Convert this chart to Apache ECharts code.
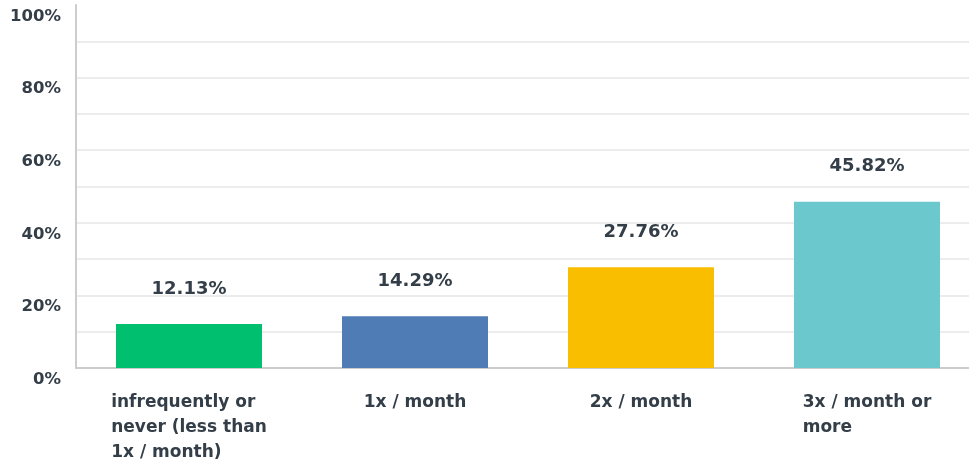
<!DOCTYPE html>
<html>
<head>
<meta charset="utf-8">
<script src="https://cdn.jsdelivr.net/npm/echarts@6/dist/echarts.min.js"></script>
<style>
    html, body { margin: 0; padding: 0; background: #fff; }
    #chart { width: 969px; height: 466px; }
</style>
</head>
<body>
<div id="chart"></div>
<script>
const categories = [
    'infrequently or\nnever (less than\n1x / month)',
    '1x / month',
    '2x / month',
    '3x / month or\nmore'
];
const values = [12.13, 14.29, 27.76, 45.82];
const barColors = ['#00bf6f', '#507cb6', '#f9be00', '#6bc8cd'];
const yTickLabels = ['0%', '20%', '40%', '60%', '80%', '100%'];

const textColor = '#333e48';
const font = 'DejaVu Sans';

const chart = echarts.init(document.getElementById('chart'), null, { renderer: 'canvas' });

const option = {
    animation: false,
    grid: {
        left: 76,
        right: -11,
        top: 5,
        bottom: 98,
        containLabel: false,
        outerBoundsMode: 'none'
    },
    xAxis: {
        type: 'category',
        data: categories,
        axisLine: { show: true, lineStyle: { color: '#cccccc', width: 2 } },
        axisTick: { show: false },
        axisLabel: {
            interval: 0,
            margin: 22,
            align: 'center',
            hideOverlap: false,
            // left-aligned lines inside a centred block
            formatter: function (value) {
                return value.split('\n').map((l) => '{a|' + l + '}').join('\n');
            },
            rich: {
                a: {
                    align: 'left',
                    color: textColor,
                    fontFamily: font,
                    fontWeight: 'bold',
                    fontSize: 17,
                    lineHeight: 25
                }
            }
        }
    },
    yAxis: {
        type: 'value',
        min: 0,
        max: 100,
        interval: 10,
        axisLine: { show: true, lineStyle: { color: '#cccccc', width: 2 } },
        axisTick: { show: false },
        splitLine: {
            show: true,
            showMinLine: false,
            showMaxLine: false,
            lineStyle: { color: '#ececec', width: 2 }
        },
        axisLabel: {
            margin: 15,
            verticalAlign: 'top',
            padding: [3, 0, 0, 0],
            color: textColor,
            fontFamily: font,
            fontWeight: 'bold',
            fontSize: 16.5,
            formatter: function (v) {
                return v % 20 === 0 ? yTickLabels[v / 20] : '';
            }
        }
    },
    series: [
        {
            type: 'bar',
            barWidth: 146,
            data: values.map((v, i) => ({ value: v, itemStyle: { color: barColors[i] } })),
            label: {
                show: true,
                position: 'top',
                distance: 26,
                color: textColor,
                fontFamily: font,
                fontWeight: 'bold',
                fontSize: 18,
                formatter: (p) => p.value.toFixed(2) + '%'
            }
        }
    ]
};

chart.setOption(option);
</script>
</body>
</html>
